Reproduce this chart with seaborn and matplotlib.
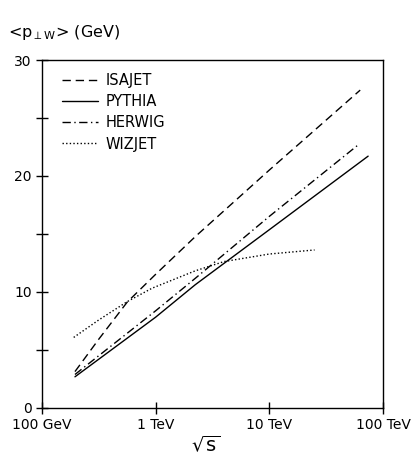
import numpy as np
import pandas as pd
import matplotlib
matplotlib.use("Agg")
import matplotlib.pyplot as plt
import seaborn as sns

# ---- data (sqrt(s) in GeV, <pT_W> in GeV) ----
isajet_x = [195, 316, 562, 1000, 2230, 10000, 63000]
isajet_y = [3.1, 5.9, 9.1, 11.5, 14.75, 20.5, 27.4]

pythia_x = [195, 1000, 2230, 10000, 74000]
pythia_y = [2.65, 7.8, 10.6, 15.35, 21.7]

herwig_x = [195, 1000, 2230, 10000, 61000]
herwig_y = [2.85, 8.35, 11.15, 16.5, 22.7]

wizjet_x = [190, 316, 562, 930, 2230, 4000, 10000, 25000]
wizjet_y = [6.05, 7.56, 9.14, 10.3, 11.8, 12.6, 13.25, 13.6]

models = ["ISAJET", "PYTHIA", "HERWIG", "WIZJET"]
xticks = [100, 1000, 10000, 100000]
xticklabels = ["100 GeV", "1 TeV", "10 TeV", "100 TeV"]
yticks = [0, 10, 20, 30]

frames = []
for name, xs, ys in [("ISAJET", isajet_x, isajet_y), ("PYTHIA", pythia_x, pythia_y),
                     ("HERWIG", herwig_x, herwig_y), ("WIZJET", wizjet_x, wizjet_y)]:
    frames.append(pd.DataFrame({"sqrt_s": xs, "pt": ys, "model": name}))
df = pd.concat(frames, ignore_index=True)

sns.set_theme(style="ticks")
plt.rcParams["font.family"] = ["DejaVu Sans"]
plt.rcParams["mathtext.fontset"] = "dejavusans"
plt.rcParams["text.color"] = "black"

fig = plt.figure(figsize=(4.14, 4.63), dpi=100)
ax = fig.add_axes([42/414, 1-407.5/463, (383-42)/414, (407.5-60)/463])

dash_styles = [(6, 3.5), "", (6, 2.5, 1, 2.5), (1, 1.6)]
sns.lineplot(data=df, x="sqrt_s", y="pt", style="model", style_order=models,
             dashes=dash_styles, color="black", linewidth=1.0, ax=ax, sort=True)

ax.set_xscale("log")
ax.set_xlim(100, 100000)
ax.set_ylim(0, 30)
ax.set_xticks(xticks)
ax.set_xticklabels(xticklabels)
ax.xaxis.set_minor_locator(matplotlib.ticker.NullLocator())
ax.set_yticks(yticks)
ax.set_yticks([5, 15, 25], minor=True)
ax.tick_params(axis="both", which="both", direction="inout", length=9, width=1.0,
               colors="black", labelsize=10, top=False, right=False)
ax.tick_params(axis="x", pad=3)
ax.tick_params(axis="y", pad=3)
for s in ax.spines.values():
    s.set_visible(True)
    s.set_linewidth(1.0)
    s.set_color("black")
ax.set_xlabel("")
ax.set_ylabel("")

leg = ax.legend(loc="upper left", bbox_to_anchor=(0.02, 1.0), frameon=False,
                fontsize=10.5, handlelength=2.5, handletextpad=0.5, labelspacing=0.42)
for line in leg.get_lines():
    line.set_linewidth(1.0)
for t in leg.get_texts():
    t.set_color("black")

fig.text(8/414, 1-33/463, r"<p$_{\perp\mathrm{W}}$> (GeV)", ha="left", va="center",
         fontsize=11.5, color="black")
fig.text(206/414, 1-445/463, r"$\sqrt{\mathrm{s}}$", ha="center", va="center",
         fontsize=14, color="black")

fig.savefig("out.png", dpi=100, facecolor="white")
